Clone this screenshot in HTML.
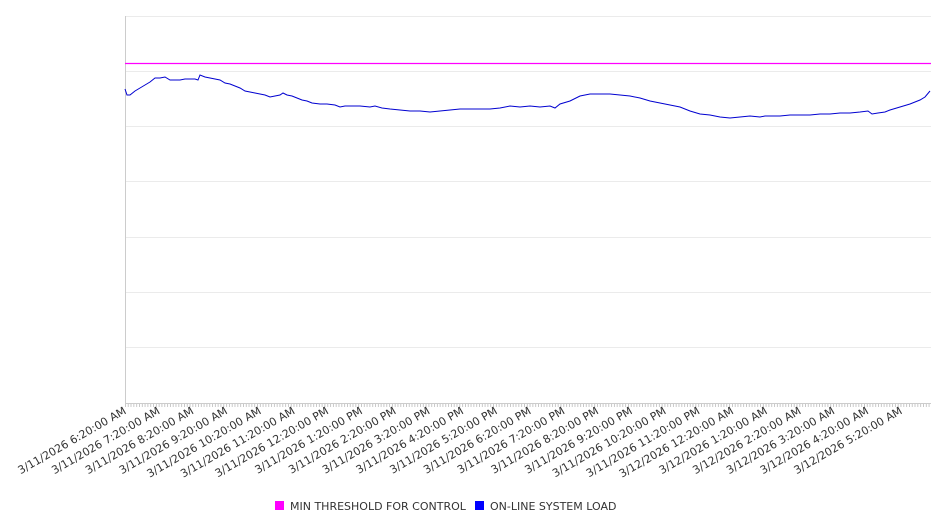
<!DOCTYPE html>
<html><head><meta charset="utf-8"><style>
html,body{margin:0;padding:0;background:#fff;}
svg{display:block;font-family:"DejaVu Sans","Liberation Sans",sans-serif;}
</style></head><body>
<svg width="946" height="526" xmlns="http://www.w3.org/2000/svg">
<defs>
<pattern id="tk" x="125" y="0" width="2.81" height="10" patternUnits="userSpaceOnUse">
<rect x="0" y="0" width="0.8" height="10" fill="#bbb"/>
</pattern>
</defs>
<g fill="#ebebeb">
<rect x="125" y="16" width="806" height="1"/>
<rect x="125" y="71" width="806" height="1"/>
<rect x="125" y="126" width="806" height="1"/>
<rect x="125" y="181" width="806" height="1"/>
<rect x="125" y="237" width="806" height="1"/>
<rect x="125" y="292" width="806" height="1"/>
<rect x="125" y="347" width="806" height="1"/>
</g>
<rect x="125" y="16" width="1" height="388" fill="#ccc"/>
<rect x="125" y="403" width="806" height="1" fill="#ccc"/>
<rect x="125" y="404" width="806" height="3" fill="url(#tk)"/>
<line x1="125" y1="63.5" x2="931" y2="63.5" stroke="#ff00ff" stroke-width="1.3"/>
<polyline fill="none" stroke="#0000d0" stroke-width="1" points="125,89 127,95 130,95 135,91 140,88 145,85 150,82 155,78 160,78 165,77 170,80 175,80 180,80 185,79 190,79 195,79 198,80 200,75 205,77 210,78 215,79 220,80 225,83 230,84 235,86 240,88 245,91 250,92 255,93 260,94 265,95 270,97 275,96 280,95 283,93 287,95 292,96 297,98 302,100 307,101 312,103 320,104 327,104 335,105 340,107 345,106 350,106 360,106 370,107 375,106 382,108 390,109 400,110 410,111 420,111 430,112 440,111 450,110 460,109 470,109 480,109 490,109 500,108 510,106 520,107 530,106 540,107 550,106 555,108 560,104 570,101 580,96 585,95 590,94 600,94 610,94 620,95 630,96 640,98 650,101 660,103 670,105 680,107 690,111 700,114 710,115 720,117 730,118 740,117 750,116 760,117 765,116 770,116 780,116 790,115 800,115 810,115 820,114 830,114 840,113 850,113 860,112 868,111 872,114 878,113 885,112 890,110 900,107 910,104 920,100 925,97 930,91"/>
<g font-size="11" fill="#333" text-anchor="end">
<text transform="translate(127,413) rotate(-30)">3/11/2026 6:20:00 AM</text>
<text transform="translate(160.7,413) rotate(-30)">3/11/2026 7:20:00 AM</text>
<text transform="translate(194.5,413) rotate(-30)">3/11/2026 8:20:00 AM</text>
<text transform="translate(228.2,413) rotate(-30)">3/11/2026 9:20:00 AM</text>
<text transform="translate(262,413) rotate(-30)">3/11/2026 10:20:00 AM</text>
<text transform="translate(295.7,413) rotate(-30)">3/11/2026 11:20:00 AM</text>
<text transform="translate(329.4,413) rotate(-30)">3/11/2026 12:20:00 PM</text>
<text transform="translate(363.2,413) rotate(-30)">3/11/2026 1:20:00 PM</text>
<text transform="translate(396.9,413) rotate(-30)">3/11/2026 2:20:00 PM</text>
<text transform="translate(430.7,413) rotate(-30)">3/11/2026 3:20:00 PM</text>
<text transform="translate(464.4,413) rotate(-30)">3/11/2026 4:20:00 PM</text>
<text transform="translate(498.1,413) rotate(-30)">3/11/2026 5:20:00 PM</text>
<text transform="translate(531.9,413) rotate(-30)">3/11/2026 6:20:00 PM</text>
<text transform="translate(565.6,413) rotate(-30)">3/11/2026 7:20:00 PM</text>
<text transform="translate(599.4,413) rotate(-30)">3/11/2026 8:20:00 PM</text>
<text transform="translate(633.1,413) rotate(-30)">3/11/2026 9:20:00 PM</text>
<text transform="translate(666.8,413) rotate(-30)">3/11/2026 10:20:00 PM</text>
<text transform="translate(700.6,413) rotate(-30)">3/11/2026 11:20:00 PM</text>
<text transform="translate(734.3,413) rotate(-30)">3/12/2026 12:20:00 AM</text>
<text transform="translate(768.1,413) rotate(-30)">3/12/2026 1:20:00 AM</text>
<text transform="translate(801.8,413) rotate(-30)">3/12/2026 2:20:00 AM</text>
<text transform="translate(835.5,413) rotate(-30)">3/12/2026 3:20:00 AM</text>
<text transform="translate(869.3,413) rotate(-30)">3/12/2026 4:20:00 AM</text>
<text transform="translate(903,413) rotate(-30)">3/12/2026 5:20:00 AM</text>
</g>
<rect x="275" y="501" width="9" height="9" fill="#ff00ff"/>
<text x="290" y="510" font-size="11" fill="#333">MIN THRESHOLD FOR CONTROL</text>
<rect x="475" y="501" width="9" height="9" fill="#0000ff"/>
<text x="490" y="510" font-size="11" fill="#333">ON-LINE SYSTEM LOAD</text>
</svg>
</body></html>
